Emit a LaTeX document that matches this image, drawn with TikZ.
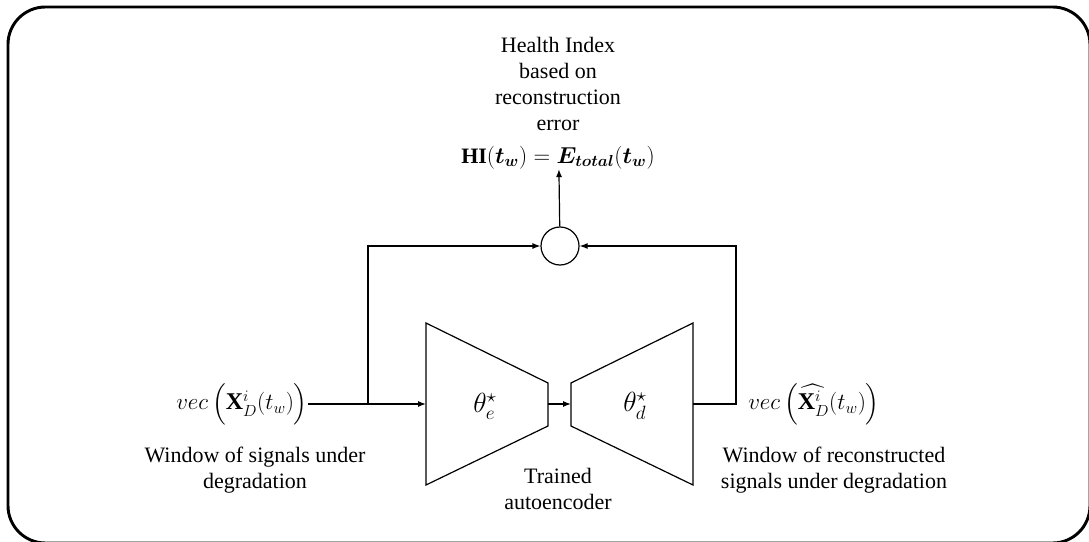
\documentclass[tikz,border=0pt]{standalone}
\usepackage{amsmath}
\usepackage{fontspec}
\setmainfont{Liberation Serif}
\usetikzlibrary{arrows.meta,positioning}

\begin{document}
\begin{tikzpicture}[x=0.75pt,y=-0.75pt,>={Latex[length=6pt,width=4.5pt]},
lbl/.style={align=center,inner sep=0pt,font=\fontsize{16.5}{19.5}\selectfont},
sym/.style={inner sep=0pt,font=\fontsize{18}{22}\selectfont},
net/.style={draw,line width=0.9pt},
arr/.style={->,line width=0.9pt}]
\useasboundingbox (0,0) rectangle (1089,542);
\begin{scope}
\clip (0,0) rectangle (1089,542);
\draw[line width=2.2pt,rounded corners=28pt] (8,7) rectangle (1090,543);
\end{scope}
% autoencoder
\draw[net] (426,323) -- (548,383) -- (548,426) -- (426,485) -- cycle;
\draw[net] (571,383) -- (693,323) -- (693,485) -- (571,426) -- cycle;
\coordinate (encin) at (426,404);
\coordinate (encout) at (548,404);
\coordinate (decin) at (571,404);
\coordinate (decout) at (693,404);
\coordinate (split) at (368,404);
\coordinate (merge) at (736,404);
\node[sym,font=\fontsize{21}{24}\selectfont] (the) at (485,406) {$\theta_e^\star$};
\node[sym,font=\fontsize{21}{24}\selectfont] (thd) at (635,406) {$\theta_d^\star$};
\node[lbl] (ae) at (558,489) {Trained\\autoencoder};
% signals
\node[sym,anchor=east] (xin) at (308,404) {$vec\,\Big(\mathbf{X}_D^i(t_w)\Big)$};
\node[sym,anchor=west] (xout) at (748,404) {$vec\,\Big(\widehat{\mathbf{X}_D^i}(t_w)\Big)$};
\node[lbl] (win) at (255,470) {Window of signals under\\degradation};
\node[lbl] (wout) at (834,470) {Window of reconstructed\\signals under degradation};
% error
\node[circle,draw,line width=0.9pt,minimum size=28.5pt,inner sep=0pt] (sum) at (560,246) {};
\node[lbl] (hi) at (558,103) {Health Index\\based on\\reconstruction\\error\\[5pt]$\mathbf{HI}(\boldsymbol{t_w})=\boldsymbol{E_{total}}(\boldsymbol{t_w})$};
\draw[net] (xin) -- (split);
\draw[arr] (split) |- (sum);
\draw[arr] (decout) -- (merge) |- (sum);
\foreach \u/\v in {split/encin,encout/decin,sum/hi}{\draw[arr] (\u)--(\v);}
\end{tikzpicture}
\end{document}
